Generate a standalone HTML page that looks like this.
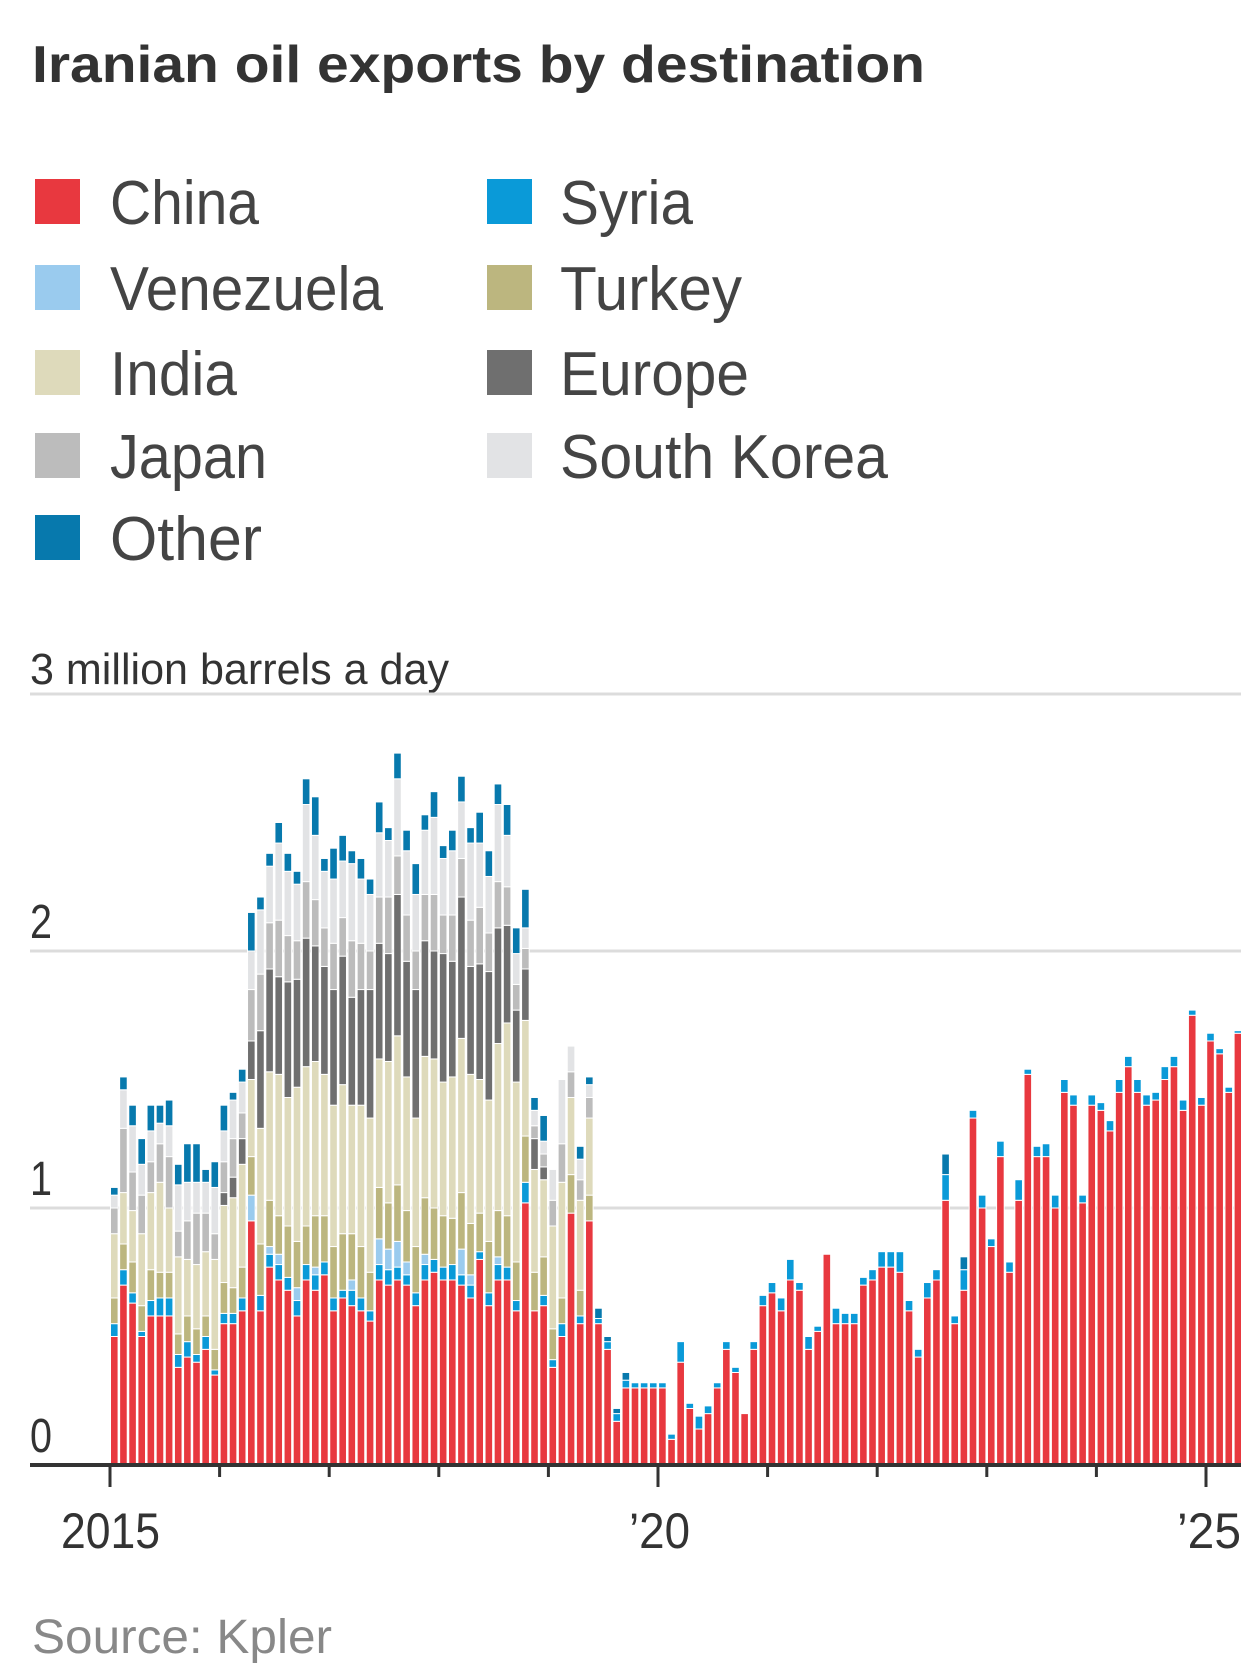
<!DOCTYPE html>
<html><head><meta charset="utf-8"><style>
html,body{margin:0;padding:0;background:#fff;}
svg{display:block;font-family:"Liberation Sans",sans-serif;}
</style></head><body>
<svg id="chart" width="1241" height="1677" viewBox="0 0 1241 1677">
<text x="32" y="82" font-size="52" font-weight="bold" fill="#333" textLength="893" lengthAdjust="spacingAndGlyphs">Iranian oil exports by destination</text>
<g id="legend"></g>
<text x="30" y="684" font-size="44" fill="#333" textLength="419" lengthAdjust="spacingAndGlyphs">3 million barrels a day</text>
<g id="grid"></g>
<g id="bars"></g>
<g id="xaxis"></g>
<text x="32" y="1653" font-size="48" fill="#888" textLength="300" lengthAdjust="spacingAndGlyphs">Source: Kpler</text>
</svg>
<script>
const seriesNames = ["China","Syria","Venezuela","Turkey","India","Europe","Japan","South Korea","Other"];
const seriesColors = ["#e8383f","#0a9ad8","#9acbee","#bcb67f","#dedabb","#6f6f6f","#bcbcbc","#e2e3e5","#0779ad"];
const yTicks = [0,1,2,3];
const xTickLabels = ["2015","’20","’25"];
const china = [.50,.70,.63,.50,.58,.58,.58,.38,.42,.40,.45,.35,
 .55,.55,.60,.95,.60,.77,.72,.68,.58,.72,.68,.74,
 .60,.65,.62,.60,.56,.72,.70,.72,.70,.62,.72,.75,
 .72,.72,.70,.65,.80,.62,.72,.72,.60,1.02,.60,.62,
 .38,.50,.98,.55,.95,.55,.45,.17,.30,.30,.30,.30,
 .30,.10,.40,.22,.14,.20,.30,.45,.36,.20,.45,.62,
 .67,.60,.72,.68,.45,.52,.82,.55,.55,.55,.70,.72,
 .77,.77,.75,.60,.42,.65,.72,1.03,.55,.68,1.35,1.00,
 .85,1.20,.75,1.03,1.52,1.20,1.20,1.00,1.45,1.40,1.02,1.40,
 1.38,1.30,1.45,1.55,1.45,1.40,1.42,1.50,1.55,1.38,1.75,1.40,
 1.65,1.60,1.45,1.68];
const syria = [.05,.06,.04,.02,.06,.07,.07,.05,.06,.03,.05,.02,
 .04,.04,.05,0,.06,.05,.06,.05,.06,.06,.06,.05,
 .05,.03,.06,.05,.04,.06,.06,.05,.04,.05,.06,.05,
 .05,.06,.04,.05,.03,.05,.06,.05,.04,.08,0,.04,
 .03,.05,0,.03,0,.02,.03,.03,.03,.02,.02,.02,
 .02,.02,.08,.02,.05,.03,.02,.03,.02,0,.03,.04,
 .04,.05,.08,.03,.05,.02,0,.06,.04,.04,.03,.04,
 .06,.06,.08,.04,.03,.06,.04,.10,.03,.08,.03,.05,
 .03,.06,.04,.08,.02,.04,.05,.05,.05,.04,.03,.04,
 .03,.04,.05,.04,.05,.04,.03,.05,.04,.04,.02,.03,
 .03,.02,.02,.01];
const venezuela = [0,0,0,0,0,0,0,0,0,0,0,0,
 0,0,0,.10,0,.03,.04,0,.05,0,.03,0,
 0,0,.04,0,0,.10,.08,.10,.05,0,.04,0,
 0,0,.10,.04,0,0,.03,0,0,0,0,0,
 0,0,0,0,0,0,0,0,0,0,0,0, 0,0,0,0,0,0,0,0,0,0,0,0, 0,0,0,0,0,0,0,0,0,0,0,0,
 0,0,0,0,0,0,0,0,0,0,0,0, 0,0,0,0,0,0,0,0,0,0,0,0, 0,0,0,0,0,0,0,0,0,0,0,0, 0,0,0,0];
const turkey = [.10,.10,.12,.10,.12,.10,.10,.08,.10,.10,.08,.08,
 .12,.10,.12,.15,.20,.18,.15,.20,.18,.15,.20,.18,
 .20,.22,.18,.20,.15,.20,.18,.22,.20,.18,.22,.20,
 .20,.18,.22,.20,.15,.20,.18,.20,.15,.18,.15,.15,
 .12,.10,.15,.10,.10,0,0,0,0,0,0,0, 0,0,0,0,0,0,0,0,0,0,0,0, 0,0,0,0,0,0,0,0,0,0,0,0,
 0,0,0,0,0,0,0,0,0,0,0,0, 0,0,0,0,0,0,0,0,0,0,0,0, 0,0,0,0,0,0,0,0,0,0,0,0, 0,0,0,0];
const india = [.25,.20,.20,.28,.30,.35,.25,.30,.22,.25,.25,.35,
 .30,.35,.40,.30,.45,.50,.55,.50,.60,.62,.60,.55,
 .55,.58,.50,.55,.60,.50,.55,.58,.52,.50,.55,.58,
 .52,.55,.60,.58,.52,.55,.65,.75,.70,.45,.40,.30,
 .40,.45,.30,.35,.30,0,0,0,0,0,0,0, 0,0,0,0,0,0,0,0,0,0,0,0, 0,0,0,0,0,0,0,0,0,0,0,0,
 0,0,0,0,0,0,0,0,0,0,0,0, 0,0,0,0,0,0,0,0,0,0,0,0, 0,0,0,0,0,0,0,0,0,0,0,0, 0,0,0,0];
const europe = [0,0,0,0,0,0,0,0,0,0,0,0,
 .05,.08,.10,.15,.38,.40,.38,.45,.42,.50,.45,.42,
 .45,.50,.42,.45,.50,.45,.42,.55,.45,.50,.45,.42,
 .50,.45,.55,.42,.45,.50,.45,.38,.28,.20,.12,.05,
 0,0,0,0,0,0,0,0,0,0,0,0, 0,0,0,0,0,0,0,0,0,0,0,0, 0,0,0,0,0,0,0,0,0,0,0,0,
 0,0,0,0,0,0,0,0,0,0,0,0, 0,0,0,0,0,0,0,0,0,0,0,0, 0,0,0,0,0,0,0,0,0,0,0,0, 0,0,0,0];
const japan = [.10,.25,.15,.15,.12,.15,.20,.10,.15,.20,.15,.10,
 .12,.15,.10,.20,.22,.18,.22,.18,.15,.22,.18,.15,
 .18,.15,.22,.18,.15,.18,.22,.15,.18,.15,.18,.22,
 .15,.18,.15,.18,.22,.15,.18,.15,.10,.08,.05,.05,
 .10,.15,.10,.08,.08,0,0,0,0,0,0,0, 0,0,0,0,0,0,0,0,0,0,0,0, 0,0,0,0,0,0,0,0,0,0,0,0,
 0,0,0,0,0,0,0,0,0,0,0,0, 0,0,0,0,0,0,0,0,0,0,0,0, 0,0,0,0,0,0,0,0,0,0,0,0, 0,0,0,0];
const southKorea = [.05,.15,.18,.12,.12,.08,.12,.18,.15,.12,.12,.18,
 .12,.15,.12,.15,.25,.22,.30,.25,.22,.30,.25,.22,
 .25,.22,.30,.25,.22,.25,.22,.30,.25,.22,.25,.30,
 .22,.25,.22,.30,.25,.22,.30,.20,.12,.08,.06,.05,
 .12,.25,.10,.08,.05,0,0,0,0,0,0,0, 0,0,0,0,0,0,0,0,0,0,0,0, 0,0,0,0,0,0,0,0,0,0,0,0,
 0,0,0,0,0,0,0,0,0,0,0,0, 0,0,0,0,0,0,0,0,0,0,0,0, 0,0,0,0,0,0,0,0,0,0,0,0, 0,0,0,0];
const other = [.03,.05,.08,.10,.10,.07,.10,.08,.15,.15,.05,.10,
 .10,.03,.05,.15,.05,.05,.08,.07,.05,.10,.15,.05,
 .12,.10,.05,.08,.06,.12,.05,.10,.08,.12,.06,.10,
 .05,.08,.10,.06,.12,.10,.08,.12,.10,.15,.05,.10,
 0,0,0,.05,.03,.04,.02,.02,.03,0,0,0,
 0,0,0,0,0,0,0,0,0,0,0,0, 0,0,0,0,0,0,0,0,0,0,0,0,
 0,0,0,0,0,0,0,.08,0,.05,0,0, 0,0,0,0,0,0,0,0,0,0,0,0, 0,0,0,0,0,0,0,0,0,0,0,0, 0,0,0,0];
const seriesData = [china,syria,venezuela,turkey,india,europe,japan,southKorea,other];

const NS="http://www.w3.org/2000/svg";
const y0=1465, unit=257, x0=110, monthW=9.135, yearW=109.6;
function yScale(v){return y0 - v*unit;}
function xScale(i){return x0 + i*monthW;}
function mk(tag,attrs,parent){const e=document.createElementNS(NS,tag);for(const k in attrs)e.setAttribute(k,attrs[k]);parent.appendChild(e);return e;}

const legend=document.getElementById('legend');
const legendRows=[201,287,372,455,537];
const legendLen=[149,133,273,182,127,189,157,328,152];
const legendOrder=[[0,0,0],[1,1,0],[2,0,1],[3,1,1],[4,0,2],[5,1,2],[6,0,3],[7,1,3],[8,0,4]];
legendOrder.forEach(([s,c,r])=>{
  const g=mk('g',{},legend);
  
  
  const lx=c?487:35, tx=c?560:110, cy=legendRows[r];
  mk('rect',{x:lx,y:cy-22,width:45,height:45,fill:seriesColors[s]},g);
  const t=mk('text',{x:tx,y:cy+23,'font-size':62,fill:'#444',textLength:legendLen[s],lengthAdjust:'spacingAndGlyphs'},g);
  t.textContent=seriesNames[s];
});

const grid=document.getElementById('grid');
yTicks.forEach(v=>{
  if(v>0){const l=mk('line',{x1:30,x2:1241,y1:yScale(v),y2:yScale(v),stroke:'#dcdcdc','stroke-width':3},grid);
  
  }
  if(v<3){
  const t=mk('text',{x:30,y:yScale(v)-13,'font-size':48,fill:'#333',textLength:22,lengthAdjust:'spacingAndGlyphs'},grid);
  
  
  t.textContent=String(v);}
});

const bars=document.getElementById('bars');
for(let i=0;i<china.length;i++){
  let acc=0;
  seriesData.forEach((arr,s)=>{
    const v=arr[i]||0; if(v<=0) return;
    const r=mk('rect',{x:xScale(i)+0.5,y:yScale(acc+v),width:7.6,height:v*unit,fill:seriesColors[s],stroke:'#fff','stroke-width':1},bars);
    
    
    acc+=v;
  });
}

const xa=document.getElementById('xaxis');
mk('line',{x1:30,x2:1241,y1:y0,y2:y0,stroke:'#333','stroke-width':4},xa);
for(let k=0;k<=10;k++){
  const major=k%5===0;
  const t=mk('line',{x1:x0+k*yearW,x2:x0+k*yearW,y1:y0,y2:y0+(major?22:12),stroke:'#333','stroke-width':3},xa);
  
  
}
const xLabPos=[[61,99],[629,61],[1177,64]];
xTickLabels.forEach((s,j)=>{
  const t=mk('text',{x:xLabPos[j][0],y:1548,'font-size':50,fill:'#333',textLength:xLabPos[j][1],lengthAdjust:'spacingAndGlyphs'},xa);
  
  
  t.textContent=s;
});
</script>
</body></html>
